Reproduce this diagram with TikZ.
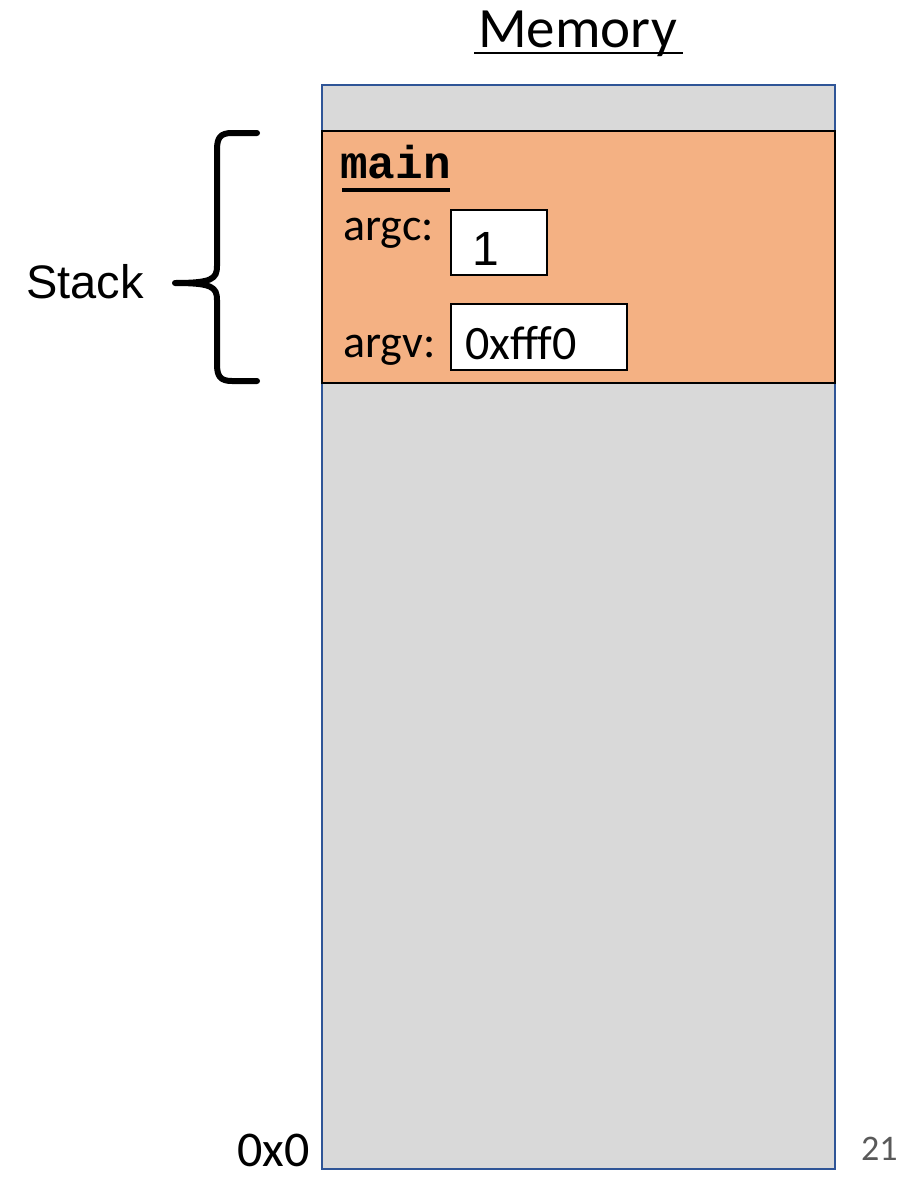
\documentclass[tikz,border=0pt]{standalone}
\usepackage{fontspec}
\setmainfont{Carlito}
\newfontfamily\arialf{Liberation Sans}
\newfontfamily\courf{Liberation Mono}
\definecolor{memfill}{HTML}{D9D9D9}
\definecolor{memline}{HTML}{2F5597}
\definecolor{framefill}{HTML}{F4B183}
\definecolor{pagegray}{HTML}{595959}
\begin{document}
\begin{tikzpicture}[x=1pt,y=-1pt,
  memstyle/.style={draw=memline,fill=memfill,line width=2pt,inner sep=0pt},
  framestyle/.style={draw=black,fill=framefill,line width=2pt,inner sep=0pt},
  valbox/.style={draw=black,fill=white,line width=1.5pt,inner sep=0pt},
  txt/.style={inner sep=0pt,anchor=base west}]
\useasboundingbox (0,0) rectangle (905,1178);
% memory
\node[memstyle,minimum width=513pt,minimum height=1084pt] (mem) at (578.5,627) {};
\node[framestyle,minimum width=513pt,minimum height=252pt] (frame) at (578.5,257) {};
% title
\node[txt,font=\fontsize{57}{60}\selectfont] (title) at (478,47) {Memory};
\draw[line width=2pt] (title.base west) ++(-4,6) -- ++(209,0);
% main
\node[txt,font=\courf\bfseries\fontsize{46}{50}\selectfont] (main) at (340,178) {main};
\draw[line width=4pt] (main.base west) ++(2,12) -- ++(108,0);
% argc
\node[txt,font=\fontsize{46}{50}\selectfont] (argc) at (343,240) {argc:};
\node[valbox,minimum width=96pt,minimum height=65pt] (vargc) at (499,242.5) {};
\node[txt,font=\arialf\fontsize{48}{52}\selectfont] (one) at (472,265) {1};
% argv
\node[txt,font=\fontsize{46}{50}\selectfont] (argv) at (343,357) {argv:};
\node[valbox,minimum width=176pt,minimum height=66pt] (vargv) at (539,337) {};
\node[txt,font=\fontsize{48}{52}\selectfont] (addr) at (465,359) {0xfff0};
% stack brace
\coordinate (btop) at (257,133);
\coordinate (bbot) at (257,381);
\coordinate (btip) at (175,283);
\draw[line width=6pt,line cap=round,line join=round]
  (btop) -- (232,133) .. controls (220,133) and (217,138) .. (217,150)
  -- (217,266) .. controls (217,279) and (212,283) .. (btip)
  .. controls (212,283) and (217,287) .. (217,300)
  -- (217,364) .. controls (217,376) and (220,381) .. (232,381) -- (bbot);
\node[txt,font=\arialf\fontsize{47}{50}\selectfont] (stack) at (26,298) {Stack};
% bottom labels
\node[txt,font=\fontsize{50}{54}\selectfont] (zero) at (237,1166) {0x0};
\node[txt,font=\fontsize{36}{40}\selectfont,text=pagegray] (page) at (861,1160) {21};
\end{tikzpicture}
\end{document}
